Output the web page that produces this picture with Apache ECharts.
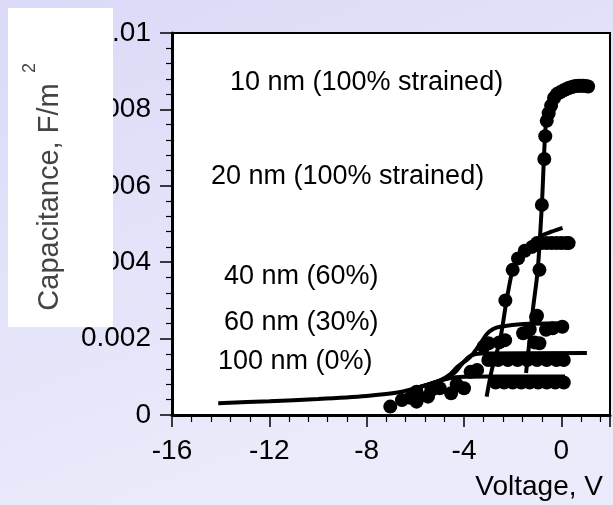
<!DOCTYPE html>
<html><head><meta charset="utf-8">
<script src="https://cdn.jsdelivr.net/npm/echarts@6/dist/echarts.min.js"></script>
<style>html,body{margin:0;padding:0;}#c{width:613px;height:505px;}</style>
</head><body><div id="c"></div>
<script>
// Axis ticks
const xTicks = [-16, -12, -8, -4, 0];
const yTicks = [0, 0.002, 0.004, 0.006, 0.008, 0.01];

// Labels
const labels = ["10 nm (100% strained)", "20 nm (100% strained)", "40 nm (60%)", "60 nm (30%)", "100 nm (0%)"];

// Measured points [voltage, capacitance]
const data10 = [[-1.1,0.0019],[-1.0,0.0026],[-0.9,0.0038],[-0.8,0.0055],[-0.7,0.0067],[-0.66,0.0073],[-0.6,0.0077],[-0.52,0.0079],[-0.42,0.0081],[-0.3,0.0083],[-0.18,0.0084],[-0.05,0.00845],[0.1,0.0085],[0.2,0.00853],[0.3,0.00856],[0.4,0.00858],[0.5,0.0086],[0.6,0.00861],[0.7,0.00862],[0.8,0.00862],[0.9,0.00862],[1.0,0.00861],[1.1,0.0086]];
const data20 = [[-2.55,0.0019],[-2.3,0.0030],[-2.0,0.0038],[-1.78,0.0041],[-1.5,0.0043],[-1.2,0.0044],[-1.0,0.0045],[-0.8,0.0045],[-0.6,0.0045],[-0.4,0.0045],[-0.2,0.0045],[0.0,0.0045],[0.2,0.0045],[0.3,0.0045]];
const data40 = [[-3.19,0.00179],[-2.99,0.00188],[-2.31,0.00196],[-1.57,0.00214],[-1.3,0.00224],[-1.04,0.00257],[-0.9,0.00188],[-0.63,0.00223],[-0.36,0.00227],[0.04,0.00231]];
const data60 = [[-3.73,0.00113],[-3.46,0.00118],[-3.0,0.00144],[-2.6,0.00144],[-2.2,0.00144],[-1.8,0.00144],[-1.4,0.00144],[-1.0,0.00144],[-0.6,0.00144],[-0.2,0.00144],[0.1,0.00144]];
const data100 = [[-7.03,0.00022],[-6.55,0.00039],[-6.2,0.00045],[-5.95,0.00061],[-5.95,0.00035],[-5.48,0.00048],[-5.34,0.00065],[-5.0,0.0007],[-4.53,0.00057],[-4.3,0.0008],[-4.0,0.0007],[-2.7,0.00085],[-2.35,0.00085],[-2.0,0.00085],[-1.65,0.00085],[-1.3,0.00085],[-0.95,0.00085],[-0.6,0.00085],[-0.25,0.00085],[0.1,0.00085]];

// Fitted curves
const fit10 = [[-1.45,0.0011],[-1.17,0.00275],[-0.97,0.0038],[-0.80,0.0055],[-0.64,0.0076],[-0.5,0.0080],[-0.25,0.0083],[0.1,0.0085],[0.55,0.0086],[1.1,0.0086]];
const fit20 = [[-3.07,0.00048],[-2.85,0.0012],[-2.52,0.00196],[-2.25,0.0030],[-2.0,0.0038],[-1.78,0.0041],[-1.5,0.00432],[-1.17,0.0045],[-0.8,0.0047],[-0.4,0.0048],[0.05,0.0049]];
const fit40 = [[-6.0,0.0007],[-5.0,0.0009],[-4.6,0.00105],[-4.27,0.00126],[-3.73,0.00153],[-3.32,0.00188],[-3.06,0.00212],[-2.8,0.00225],[-2.52,0.00231],[-1.57,0.00238],[0.17,0.0024]];
const fit60 = [[-6.0,0.0007],[-5.0,0.0009],[-4.4,0.0011],[-4.0,0.0014],[-3.7,0.00156],[-3.3,0.00161],[1.05,0.00162]];
const fit100 = [[-14.1,0.00031],[-12,0.00036],[-10,0.00042],[-8,0.0005],[-6.8,0.00058],[-6.0,0.0007],[-5.2,0.00085],[-4.6,0.00096],[-4.0,0.001],[-3.0,0.00101],[-1.0,0.00101],[0.15,0.00101]];

const FONT = "'Liberation Sans', Arial, sans-serif";
const chart = echarts.init(document.getElementById('c'), null, {renderer: 'canvas'});

function dots(d) {
  return {type: 'scatter', data: d, symbol: 'circle', symbolSize: 14, itemStyle: {color: '#000', opacity: 1}, z: 4, animation: false};
}
function fit(d) {
  return {type: 'line', data: d, showSymbol: false, smooth: 0.3, lineStyle: {color: '#000', width: 4}, z: 3, animation: false};
}

chart.setOption({
  animation: false,
  backgroundColor: {type: 'linear', x: 0, y: 0, x2: 0.3, y2: 1, colorStops: [{offset: 0, color: '#DADAF8'}, {offset: 1, color: '#EBEBFB'}]},
  grid: {left: 172, top: 33, right: -5.5, bottom: 90, show: true, backgroundColor: '#fff', borderColor: '#000', borderWidth: 2},
  xAxis: {
    type: 'value', min: -16, max: 2, interval: 4,
    axisLine: {show: true, onZero: false, lineStyle: {color: '#000', width: 3}},
    axisTick: {show: true, inside: false, length: 12, lineStyle: {color: '#000', width: 1.5}},
    minorTick: {show: true, splitNumber: 5, length: 7, lineStyle: {color: '#000', width: 1.2}},
    splitLine: {show: false},
    axisLabel: {margin: 22, color: '#000', fontSize: 28, fontFamily: FONT,
      formatter: v => xTicks.indexOf(v) >= 0 ? String(v) : ''}
  },
  yAxis: {
    type: 'value', min: 0, max: 0.01, interval: 0.002,
    axisLine: {show: true, onZero: false, lineStyle: {color: '#000', width: 3}},
    axisTick: {show: true, inside: false, length: 12, lineStyle: {color: '#000', width: 1.5}},
    minorTick: {show: true, splitNumber: 5, length: 6, lineStyle: {color: '#000', width: 1.2}},
    splitLine: {show: false},
    axisLabel: {margin: 21, color: '#000', fontSize: 28, fontFamily: FONT,
      formatter: v => { const t = yTicks.find(k => Math.abs(k - v) < 1e-9); return t === undefined ? '' : String(t); }}
  },
  series: [fit(fit100), fit(fit60), fit(fit40), fit(fit20), fit(fit10),
           dots(data100), dots(data60), dots(data40), dots(data20), dots(data10)],
  graphic: [
    {type: 'rect', shape: {x: 8, y: 8, width: 105, height: 319}, style: {fill: '#fff'}, z: 100},
    {type: 'text', x: 50, y: 197, rotation: Math.PI / 2, z: 101,
      style: {text: 'Capacitance, F/m', font: '29px ' + FONT, fill: '#444', textAlign: 'center', textVerticalAlign: 'middle'}},
    {type: 'text', x: 30, y: 68, rotation: Math.PI / 2, z: 101,
      style: {text: '2', font: '18px ' + FONT, fill: '#444', textAlign: 'center', textVerticalAlign: 'middle'}},
    {type: 'text', x: 230, y: 83, z: 50, style: {text: labels[0], font: '27px ' + FONT, fill: '#000', textAlign: 'left', textVerticalAlign: 'middle'}},
    {type: 'text', x: 211, y: 177, z: 50, style: {text: labels[1], font: '27px ' + FONT, fill: '#000', textAlign: 'left', textVerticalAlign: 'middle'}},
    {type: 'text', x: 224, y: 277, z: 50, style: {text: labels[2], font: '27px ' + FONT, fill: '#000', textAlign: 'left', textVerticalAlign: 'middle'}},
    {type: 'text', x: 224, y: 323, z: 50, style: {text: labels[3], font: '27px ' + FONT, fill: '#000', textAlign: 'left', textVerticalAlign: 'middle'}},
    {type: 'text', x: 218, y: 362, z: 50, style: {text: labels[4], font: '27px ' + FONT, fill: '#000', textAlign: 'left', textVerticalAlign: 'middle'}},
    {type: 'text', x: 603, y: 487, z: 50, style: {text: 'Voltage, V', font: '28px ' + FONT, fill: '#000', textAlign: 'right', textVerticalAlign: 'middle'}}
  ]
});
</script></body></html>
